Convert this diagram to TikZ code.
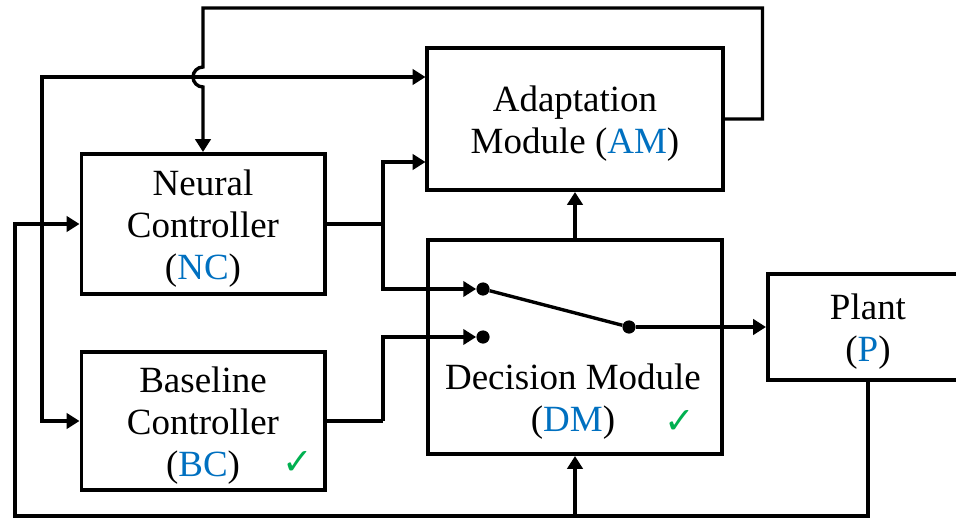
\documentclass[tikz,border=0pt]{standalone}
\usepackage{fontspec}
\setmainfont{Liberation Serif}
\newfontfamily\symfont{DejaVu Sans}
\usetikzlibrary{arrows.meta,calc}
\definecolor{abbrblue}{HTML}{0070C0}
\definecolor{okgreen}{HTML}{00B050}
\newcommand{\abbr}[1]{\textcolor{abbrblue}{#1}}
\newcommand{\okmark}{\textcolor{okgreen}{\symfont\bfseries\char"2713}}
\begin{document}
\begin{tikzpicture}[x=0.025cm, y=-0.025cm,
    font=\fontsize{26.3}{30}\selectfont,
    block/.style={draw, line width=2.8pt, inner sep=0pt, label={[blocktext]center:#1}},
    block/.default={},
    blocktext/.style={align=center, inner sep=0pt, yshift=-0.12cm},
    wire/.style={line width=2.4pt},
    arr/.style={wire, -{Triangle[length=0.32cm, width=0.38cm]}},
    dualarr/.style={wire, {Triangle[length=0.32cm, width=0.38cm]}-{Triangle[length=0.32cm, width=0.38cm]}},
    contact/.style={circle, fill, inner sep=0pt, minimum size=0.33cm},
    okbox/.style={font=\fontsize{26}{26}\selectfont, inner sep=0pt}]
\useasboundingbox (0,0) rectangle (956,519);

% blocks
\node[block={Adaptation\\Module (\abbr{AM})}, minimum width=7.375cm, minimum height=3.55cm] (am) at (575,119) {};
\node[block={Neural\\Controller\\(\abbr{NC})}, minimum width=6.075cm, minimum height=3.5cm] (nc) at (203,224) {};
\node[block={Baseline\\Controller\\(\abbr{BC})}, minimum width=6.075cm, minimum height=3.45cm] (bc) at (203,421) {};
\node[block, minimum width=7.325cm, minimum height=5.35cm] (dm) at (575,347) {};
\node[align=center, inner sep=0pt] (dm-txt) at (573,402) {Decision Module\\(\abbr{DM})};
\node[block={Plant\\(\abbr{P})}, minimum width=5cm, minimum height=2.65cm] (p) at (868,327) {};

\node[okbox] (bc-ok) at (298,463) {\okmark};
\node[okbox] (dm-ok) at (680,422) {\okmark};

% switch inside the decision module
\node[contact] (s1) at (483,289) {};
\node[contact] (s2) at (483,337) {};
\node[contact] (s3) at (629,327) {};
\draw[wire] (s1) -- (s3);

\coordinate (hop) at (203,77);
\coordinate (j1) at (383,224);
\coordinate (j2) at (383,421);

% signal paths
\draw[arr] (am.east) -- ++(38,0) |- (hop |- 0,8) -- ([yshift=0.25cm]hop)
    arc[start angle=90, end angle=270, radius=0.25cm] -- (nc.north);
\draw[dualarr] (am.west |- 0,77) -| (42,421) -- (bc.west);
\draw[wire] (nc.east) -- (j1);
\draw[arr] (j1) |- (am.west |- 0,162);
\draw[arr] (j1) |- (s1);
\draw[wire] (bc.east) -- (j2);
\draw[arr] (j2) |- (s2);
\draw[arr] (s3) -- (p);
\draw[arr] (dm.north) -- (am.south);
\draw[arr] (p.south) |- (15,516) |- (nc.west);
\draw[arr] (dm.south |- 0,516) -- (dm.south);
\end{tikzpicture}
\end{document}
